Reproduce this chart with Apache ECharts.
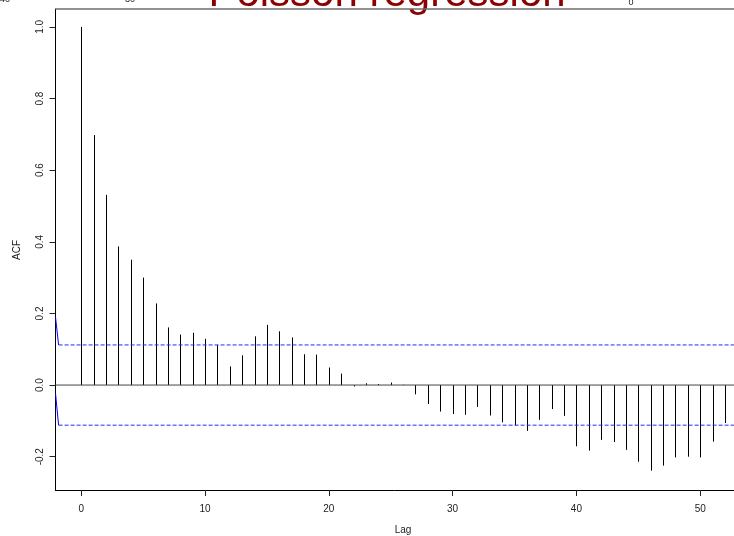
<!DOCTYPE html>
<html>
<head>
<meta charset="utf-8">
<script src="https://cdn.jsdelivr.net/npm/echarts@6/dist/echarts.min.js"></script>
<style>html,body{margin:0;padding:0;background:#fff;}#c{width:734px;height:536px;}</style>
</head>
<body>
<div id="c"></div>
<script>
const lags = [0,1,2,3,4,5,6,7,8,9,10,11,12,13,14,15,16,17,18,19,20,21,22,23,24,25,26,27,28,29,30,31,32,33,34,35,36,37,38,39,40,41,42,43,44,45,46,47,48,49,50,51,52];
const acfValues = [1.0,0.698,0.531,0.387,0.350,0.300,0.228,0.161,0.141,0.146,0.129,0.112,0.052,0.083,0.136,0.168,0.150,0.133,0.086,0.085,0.049,0.032,-0.004,0.005,0.003,0.007,0.001,-0.026,-0.053,-0.074,-0.081,-0.083,-0.061,-0.085,-0.104,-0.113,-0.128,-0.097,-0.067,-0.086,-0.171,-0.183,-0.153,-0.159,-0.181,-0.214,-0.239,-0.225,-0.202,-0.200,-0.202,-0.158,-0.106];
const ciUpper = 0.112;
const ciLower = -0.112;
const xTicks = [0,10,20,30,40,50];
const yTicks = [-0.2,0,0.2,0.4,0.6,0.8,1.0];
const leftUpper = [[-2.08,0.19],[-1.83,0.112]];
const leftLower = [[-2.08,-0.023],[-1.83,-0.112]];
const titleText = 'Poisson regression';
const strayLabels = ['40','30','0'];

const xMin = -2.08, xMax = 52.73, yMin = -0.293, yMax = 1.05;
const FONT = 'Liberation Sans, Arial, Helvetica, sans-serif';

const chart = echarts.init(document.getElementById('c'), null, {renderer:'canvas'});
chart.setOption({
  animation: false,
  backgroundColor: '#fff',
  grid: {left: 55.5, top: 9, right: 0, height: 481, show: false},
  xAxis: {
    type: 'value', min: xMin, max: xMax,
    axisLine: {show: true, onZero: false, lineStyle: {color: '#000', width: 1}},
    axisTick: {show: true, inside: false, length: 6, customValues: xTicks, lineStyle: {color: '#222'}},
    axisLabel: {customValues: xTicks, margin: 14, fontSize: 10, color: '#222', fontFamily: FONT},
    splitLine: {show: false}
  },
  yAxis: {
    type: 'value', min: yMin, max: yMax,
    axisLine: {show: true, onZero: false, lineStyle: {color: '#000', width: 1}},
    axisTick: {show: true, inside: false, length: 6, customValues: yTicks, lineStyle: {color: '#222'}},
    axisLabel: {customValues: yTicks, rotate: 90, margin: 10, fontSize: 10, color: '#222', fontFamily: FONT,
      formatter: v => v.toFixed(1)},
    splitLine: {show: false}
  },
  series: [
    {
      type: 'line', data: [[xMin,0],[xMax,0]], symbol: 'none', silent: true,
      lineStyle: {color: '#444', width: 1}, clip: true
    },
    {
      type: 'custom', clip: true,
      data: lags.map((l,i) => [l, acfValues[i]]),
      renderItem: function(params, api){
        const p0 = api.coord([api.value(0), 0]);
        const p1 = api.coord([api.value(0), api.value(1)]);
        const x = Math.round(p0[0]) + 0.5;
        return {type:'line', shape:{x1:x, y1:p0[1], x2:x, y2:p1[1]}, style:{stroke:'#000', lineWidth:1}};
      }
    },
    {
      type: 'line', data: [[leftUpper[1][0], ciUpper],[xMax, ciUpper]], symbol: 'none', clip: true,
      lineStyle: {color: '#2a2aff', width: 1, type: [4,2]}
    },
    {
      type: 'line', data: [[leftLower[1][0], ciLower],[xMax, ciLower]], symbol: 'none', clip: true,
      lineStyle: {color: '#2a2aff', width: 1, type: [4,2]}
    },
    {
      type: 'line', data: leftUpper, symbol: 'none', clip: true,
      lineStyle: {color: '#0000ff', width: 1}
    },
    {
      type: 'line', data: leftLower, symbol: 'none', clip: true,
      lineStyle: {color: '#0000ff', width: 1}
    }
  ],
  graphic: [
    {type:'line', shape:{x1:55.5, y1:9, x2:734, y2:9}, style:{stroke:'#6e6e6e', lineWidth:1.5}, z: 100},
    {type:'text', x: 387, y: -6, style:{text: titleText, fill:'#8b0000', font: '42px ' + FONT, textAlign:'center', textVerticalAlign:'middle'}},
    {type:'text', x: 5, y: 0, style:{text: strayLabels[0], fill:'#222', font: '9px ' + FONT, textAlign:'center', textVerticalAlign:'middle'}},
    {type:'text', x: 130, y: 0, style:{text: strayLabels[1], fill:'#222', font: '9px ' + FONT, textAlign:'center', textVerticalAlign:'middle'}},
    {type:'text', x: 631, y: 3, style:{text: strayLabels[2], fill:'#222', font: '9px ' + FONT, textAlign:'center', textVerticalAlign:'middle'}},
    {type:'text', x: 17, y: 250, rotation: Math.PI/2, style:{text: 'ACF', fill:'#222', font: '10px ' + FONT, textAlign:'center', textVerticalAlign:'middle'}},
    {type:'text', x: 403, y: 530, style:{text: 'Lag', fill:'#222', font: '10px ' + FONT, textAlign:'center', textVerticalAlign:'middle'}}
  ]
});
</script>
</body>
</html>
